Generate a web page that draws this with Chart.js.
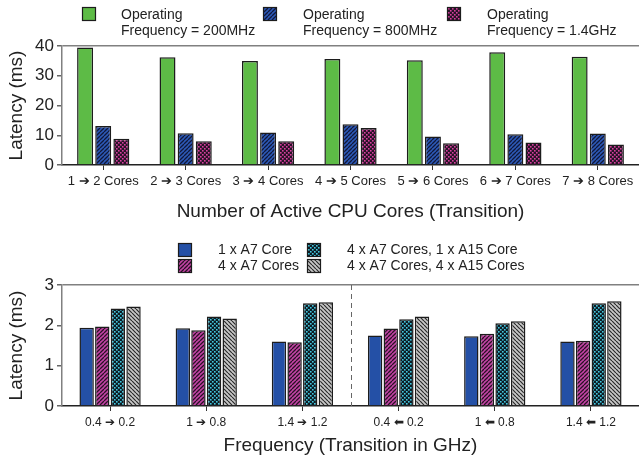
<!DOCTYPE html>
<html><head><meta charset="utf-8">
<script src="https://cdn.jsdelivr.net/npm/chart.js@4"></script>
<style>
body{margin:0;width:639px;height:461px;overflow:hidden;background:#fff;}
#w1{position:absolute;left:0;top:0;width:639px;height:225px;}
#w2{position:absolute;left:0;top:225px;width:639px;height:236px;}
</style></head><body>
<div id="w1"><canvas id="c1"></canvas></div>
<div id="w2"><canvas id="c2"></canvas></div>
<script>
// ---- data: top chart ----
const coreCategories = ['1 \u2794 2 Cores','2 \u2794 3 Cores','3 \u2794 4 Cores','4 \u2794 5 Cores','5 \u2794 6 Cores','6 \u2794 7 Cores','7 \u2794 8 Cores'];
const lat200MHz = [39.5, 36.2, 35.0, 35.6, 35.2, 37.9, 36.4];
const lat800MHz = [13.1, 10.7, 10.9, 13.7, 9.6, 10.3, 10.6];
const lat1400MHz = [8.8, 8.0, 8.0, 12.4, 7.3, 7.6, 6.9];
const topLegendLabels = [['Operating','Frequency = 200MHz'],['Operating','Frequency = 800MHz'],['Operating','Frequency = 1.4GHz']];
const topYTicks = [0, 10, 20, 30, 40];
const topXTitle = 'Number of Active CPU Cores (Transition)';

// ---- data: bottom chart ----
const freqCategories = ['0.4 \u2794 0.2','1 \u2794 0.8','1.4 \u2794 1.2','0.4 \u2B05 0.2','1 \u2B05 0.8','1.4 \u2B05 1.2'];
const oneA7 = [1.94, 1.93, 1.60, 1.75, 1.73, 1.60];
const fourA7 = [1.97, 1.88, 1.58, 1.92, 1.79, 1.62];
const fourA7oneA15 = [2.42, 2.22, 2.55, 2.15, 2.05, 2.55];
const fourA7fourA15 = [2.47, 2.17, 2.57, 2.22, 2.10, 2.60];
const bottomLegendLabels = ['1 x A7 Core','4 x A7 Cores','4 x A7 Cores, 1 x A15 Core','4 x A7 Cores, 4 x A15 Cores'];
const bottomYTicks = [0, 1, 2, 3];
const bottomXTitle = 'Frequency (Transition in GHz)';
const yTitle = 'Latency (ms)';

const FONT = '"Liberation Sans", Arial, Helvetica, sans-serif';
const TXT = '#222';

function stripePattern(bg, fg, size, dir, lw){
  const c = document.createElement('canvas'); c.width = c.height = size;
  const g = c.getContext('2d');
  g.fillStyle = bg; g.fillRect(0,0,size,size);
  g.strokeStyle = fg; g.lineWidth = lw; g.beginPath();
  for (let k=-1;k<=1;k++){
    if (dir > 0){ g.moveTo(k*size, size); g.lineTo(k*size+size, 0); }
    else { g.moveTo(k*size, 0); g.lineTo(k*size+size, size); }
  }
  g.stroke();
  return g.createPattern(c, 'repeat');
}
function dotPattern(bg, fg, size, dot){
  const c = document.createElement('canvas'); c.width = c.height = size;
  const g = c.getContext('2d');
  g.fillStyle = bg; g.fillRect(0,0,size,size);
  g.fillStyle = fg;
  g.fillRect(0,0,dot,dot);
  g.fillRect(size/2,size/2,dot,dot);
  return g.createPattern(c, 'repeat');
}

const greenFill = '#5DBB46';
const blueStripe = stripePattern('#2d5ab8', '#10183a', 4, 1, 1.3);
const pinkDots = dotPattern('#2a1228', '#d8409f', 4, 1.6);
const blueSolid = '#2450a6';
const magentaStripe = stripePattern('#c444a6', '#2a1025', 4, 1, 1.3);
const cyanDots = dotPattern('#0c1c24', '#44c8e0', 4, 1.6);
const grayStripe = stripePattern('#c8c8c8', '#2a2a2a', 4, -1, 1.2);

const BORDER = '#1c1c1c';

function legendPlugin(items){
  return {
    id: 'customLegend',
    afterDraw(chart){
      const ctx = chart.ctx;
      ctx.save();
      ctx.font = '14px ' + FONT;
      ctx.textBaseline = 'middle';
      items.forEach(it => {
        ctx.fillStyle = it.fill;
        ctx.fillRect(it.bx, it.by, 13, 13);
        ctx.strokeStyle = BORDER; ctx.lineWidth = 1.2;
        ctx.strokeRect(it.bx+0.5, it.by+0.5, 13, 13);
        ctx.fillStyle = TXT;
        const lines = Array.isArray(it.text) ? it.text : [it.text];
        lines.forEach((l, i) => ctx.fillText(l, it.tx, it.ty + i*16));
      });
      ctx.restore();
    }
  };
}

const dividerPlugin = {
  id: 'divider',
  afterDatasetsDraw(chart){
    const xs = chart.scales.x, a = chart.chartArea, ctx = chart.ctx;
    const x = Math.round((xs.getPixelForTick(2) + xs.getPixelForTick(3)) / 2) + 0.5;
    ctx.save();
    ctx.strokeStyle = '#666'; ctx.lineWidth = 1; ctx.setLineDash([5,4]);
    ctx.beginPath(); ctx.moveTo(x, a.top); ctx.lineTo(x, a.bottom); ctx.stroke();
    ctx.restore();
  }
};

function yScale(max, ticks, titlePadTop){
  return {
    min: 0, max: max,
    afterBuildTicks(s){ s.ticks = ticks.map(v => ({value: v})); },
    afterFit(s){ s.width = 62; },
    border: {display: true, color: '#808080', width: 1.5},
    grid: {
      color: c => (c.tick && c.tick.value === max) ? '#808080' : 'rgba(0,0,0,0)',
      lineWidth: 1.5, tickColor: '#666', tickLength: 5, drawTicks: true
    },
    ticks: {font: {family: FONT, size: 17}, color: TXT, padding: 3},
    title: {display: true, text: yTitle, font: {family: FONT, size: 19}, color: TXT, padding: {top: titlePadTop, bottom: 0}}
  };
}
function xScale(h, fontSize, title, padBottom){
  return {
    afterFit(s){ s.height = h; },
    border: {display: true, color: '#222', width: 1.5},
    grid: {offset: false, color: 'rgba(0,0,0,0)', tickColor: '#333', tickLength: 5, lineWidth: 1},
    ticks: {font: {family: FONT, size: fontSize}, color: TXT, padding: 4, autoSkip: false, maxRotation: 0},
    title: {display: true, text: title, font: {family: FONT, size: 19}, color: TXT, padding: {top: 0, bottom: padBottom}}
  };
}

const common = {
  responsive: true, maintainAspectRatio: false, animation: false, devicePixelRatio: 1,
  plugins: {legend: {display: false}, tooltip: {enabled: false}}
};

new Chart(document.getElementById('c1'), {
  type: 'bar',
  data: {
    labels: coreCategories,
    datasets: [
      {data: lat200MHz, backgroundColor: greenFill},
      {data: lat800MHz, backgroundColor: blueStripe},
      {data: lat1400MHz, backgroundColor: pinkDots}
    ].map(d => Object.assign(d, {borderColor: BORDER, borderWidth: 1.5, categoryPercentage: 0.66, barPercentage: 0.88}))
  },
  options: Object.assign({}, common, {
    layout: {padding: {top: 46, left: 0, right: 0, bottom: 0}},
    scales: {x: xScale(60, 13, topXTitle, 2), y: yScale(40, topYTicks, 5)}
  }),
  plugins: [legendPlugin([
    {fill: greenFill, bx: 82, by: 7, tx: 121, ty: 15, text: topLegendLabels[0]},
    {fill: blueStripe, bx: 263, by: 7, tx: 303, ty: 15, text: topLegendLabels[1]},
    {fill: pinkDots, bx: 447, by: 7, tx: 487, ty: 15, text: topLegendLabels[2]}
  ])]
});

new Chart(document.getElementById('c2'), {
  type: 'bar',
  data: {
    labels: freqCategories,
    datasets: [
      {data: oneA7, backgroundColor: blueSolid},
      {data: fourA7, backgroundColor: magentaStripe},
      {data: fourA7oneA15, backgroundColor: cyanDots},
      {data: fourA7fourA15, backgroundColor: grayStripe}
    ].map(d => Object.assign(d, {borderColor: BORDER, borderWidth: 1.5, categoryPercentage: 0.65, barPercentage: 0.92}))
  },
  options: Object.assign({}, common, {
    layout: {padding: {top: 60, left: 0, right: 0, bottom: 0}},
    scales: {x: xScale(55, 12, bottomXTitle, 4), y: yScale(3, bottomYTicks, 5)}
  }),
  plugins: [dividerPlugin, legendPlugin([
    {fill: blueSolid, bx: 178, by: 18, tx: 218, ty: 25, text: bottomLegendLabels[0]},
    {fill: magentaStripe, bx: 178, by: 34, tx: 218, ty: 41, text: bottomLegendLabels[1]},
    {fill: cyanDots, bx: 307, by: 18, tx: 347, ty: 25, text: bottomLegendLabels[2]},
    {fill: grayStripe, bx: 307, by: 34, tx: 347, ty: 41, text: bottomLegendLabels[3]}
  ])]
});
</script>
</body></html>
